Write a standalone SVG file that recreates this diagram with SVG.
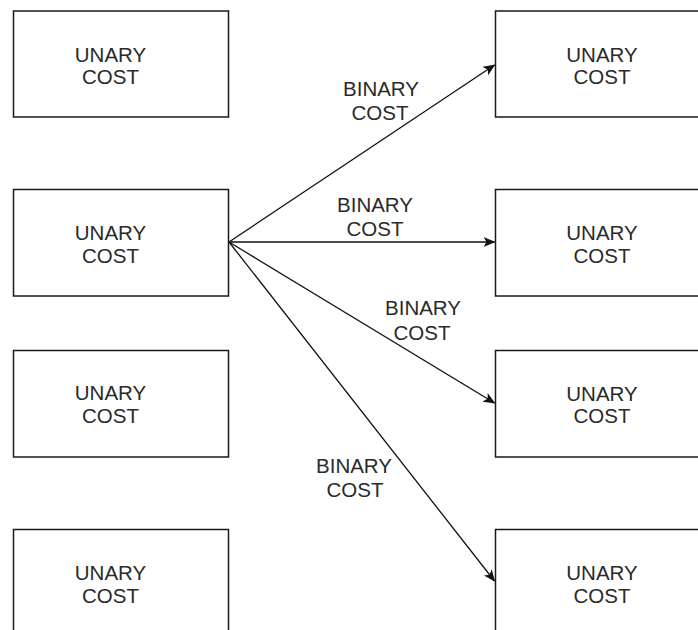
<svg xmlns="http://www.w3.org/2000/svg" width="698" height="630" viewBox="0 0 698 630">
<style>
.box{fill:#fff;stroke:#1a1a1a;stroke-width:1.5}
.t{font-family:"Liberation Sans",Arial,sans-serif;font-size:20.5px;fill:#2a2a2a;text-anchor:middle}
.e{fill:none;stroke:#111;stroke-width:1.3}
</style>
<defs>
<marker id="ah" viewBox="0 0 12 10" refX="11" refY="5" markerWidth="12" markerHeight="10" markerUnits="userSpaceOnUse" orient="auto">
<path d="M0,0 L12,5 L0,10 L3,5 Z" fill="#111"/>
</marker>
</defs>
<rect width="698" height="630" fill="#fff"/>
<g id="L1"><rect class="box" x="13.5" y="11" width="215" height="106"/><text class="t" x="110.5" y="62">UNARY</text><text class="t" x="110.5" y="84">COST</text></g>
<g id="L2"><rect class="box" x="13.5" y="189.5" width="215" height="106.5"/><text class="t" x="110.5" y="240">UNARY</text><text class="t" x="110.5" y="263">COST</text></g>
<g id="L3"><rect class="box" x="13.5" y="350.5" width="215" height="106.5"/><text class="t" x="110.5" y="400">UNARY</text><text class="t" x="110.5" y="423">COST</text></g>
<g id="L4"><rect class="box" x="13.5" y="529.5" width="215" height="106"/><text class="t" x="110.5" y="580">UNARY</text><text class="t" x="110.5" y="603">COST</text></g>
<g id="R1"><rect class="box" x="495.5" y="11" width="215" height="106"/><text class="t" x="602" y="62">UNARY</text><text class="t" x="602" y="84">COST</text></g>
<g id="R2"><rect class="box" x="495.5" y="189.5" width="215" height="106.5"/><text class="t" x="602" y="240">UNARY</text><text class="t" x="602" y="263">COST</text></g>
<g id="R3"><rect class="box" x="495.5" y="350.5" width="215" height="106.5"/><text class="t" x="602" y="401">UNARY</text><text class="t" x="602" y="423">COST</text></g>
<g id="R4"><rect class="box" x="495.5" y="529.5" width="215" height="106"/><text class="t" x="602" y="580">UNARY</text><text class="t" x="602" y="603">COST</text></g>
<g id="connectors">
<line class="e" x1="229" y1="242" x2="494.5" y2="65" marker-end="url(#ah)"/>
<line class="e" x1="229" y1="242" x2="494.5" y2="242" marker-end="url(#ah)"/>
<line class="e" x1="229" y1="242" x2="494.5" y2="403" marker-end="url(#ah)"/>
<line class="e" x1="229" y1="242" x2="494.5" y2="581" marker-end="url(#ah)"/>
<text class="t" x="381" y="96">BINARY</text><text class="t" x="380" y="120">COST</text>
<text class="t" x="375" y="212">BINARY</text><text class="t" x="375" y="236">COST</text>
<text class="t" x="423" y="315">BINARY</text><text class="t" x="422" y="340">COST</text>
<text class="t" x="354" y="473">BINARY</text><text class="t" x="355" y="497">COST</text>
</g>
</svg>
